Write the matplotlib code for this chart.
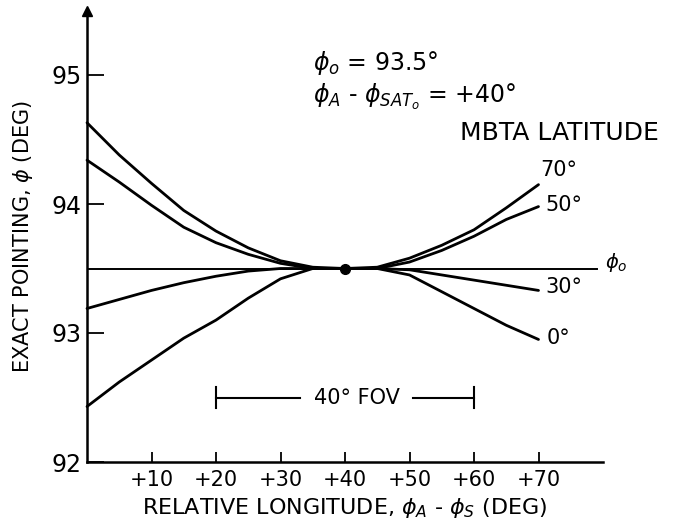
import matplotlib
matplotlib.use("Agg")
import matplotlib.pyplot as plt

plt.rcParams['font.family'] = ['DejaVu Sans']
plt.rcParams['mathtext.fontset'] = 'dejavusans'

# Data
rel_lon = [0, 5, 10, 15, 20, 25, 30, 35, 40, 45, 50, 55, 60, 65, 70]
lat_70 = [94.63, 94.38, 94.16, 93.95, 93.79, 93.66, 93.56, 93.51, 93.50, 93.51, 93.58, 93.68, 93.80, 93.97, 94.15]
lat_50 = [94.34, 94.17, 93.99, 93.82, 93.70, 93.61, 93.54, 93.50, 93.50, 93.50, 93.55, 93.64, 93.75, 93.88, 93.98]
lat_30 = [93.19, 93.26, 93.33, 93.39, 93.44, 93.48, 93.50, 93.50, 93.50, 93.50, 93.49, 93.45, 93.41, 93.37, 93.33]
lat_0 = [92.43, 92.62, 92.79, 92.96, 93.10, 93.27, 93.42, 93.50, 93.50, 93.50, 93.45, 93.32, 93.19, 93.06, 92.95]
phi0 = 93.5
phi0_x = [0, 79]
center_x = 40
fov = [20, 60]
fov_y = 92.5

series = [("70°", lat_70), ("50°", lat_50), ("30°", lat_30), ("0°", lat_0)]
label_pos = {"70°": (70.2, 94.26), "50°": (71, 93.99), "30°": (71, 93.36), "0°": (71.3, 92.96)}

xticks = [10, 20, 30, 40, 50, 60, 70]
xticklabels = ["+10", "+20", "+30", "+40", "+50", "+60", "+70"]
yticks = [92, 93, 94, 95]
yticklabels = ["92", "93", "94", "95"]

fig = plt.figure(figsize=(6.76, 5.28), dpi=100)
ax = fig.add_axes([87/676, 1-462/528, (603-87)/676, (462-10.5)/528])
ax.set_xlim(0, 80)
ax.set_ylim(92, 95.5)

for name, vals in series:
    ax.plot(rel_lon, vals, color='black', lw=2.0, solid_capstyle='round', clip_on=False)
    lx, ly = label_pos[name]
    ax.text(lx, ly, name, fontsize=15, va='center', ha='left')

ax.plot(phi0_x, [phi0, phi0], color='black', lw=1.4)
ax.text(80.3, 93.55, r"$\phi_{o}$", fontsize=14, va='center', ha='left')
ax.plot([center_x], [phi0], 'o', color='black', ms=7)

# FOV bracket
ax.plot([fov[0], fov[0]], [fov_y - 0.08, fov_y + 0.08], color='black', lw=1.5)
ax.plot([fov[1], fov[1]], [fov_y - 0.08, fov_y + 0.08], color='black', lw=1.5)
ax.plot([fov[0], 33], [fov_y, fov_y], color='black', lw=1.5)
ax.plot([50.5, fov[1]], [fov_y, fov_y], color='black', lw=1.5)
ax.text(41.8, fov_y, "40° FOV", fontsize=15, ha='center', va='center')

# annotations
ax.text(35, 95.09, r"$\phi_{o}$ = 93.5°", fontsize=17, va='center', ha='left')
ax.text(35, 94.83, r"$\phi_{A}$ - $\phi_{SAT_{o}}$ = +40°", fontsize=17, va='center', ha='left')
ax.text(57.8, 94.55, "MBTA LATITUDE", fontsize=18, va='center', ha='left')

for s in ['top', 'right']:
    ax.spines[s].set_visible(False)
for s in ['left', 'bottom']:
    ax.spines[s].set_linewidth(1.8)
ax.plot([0], [1], '^', color='black', ms=7, transform=ax.transAxes, clip_on=False)

ax.set_xticks(xticks)
ax.set_xticklabels(xticklabels, fontsize=15)
ax.set_yticks(yticks)
ax.set_yticklabels(yticklabels, fontsize=17)
ax.tick_params(axis='x', direction='in', length=7, width=1.3, pad=6)
ax.tick_params(axis='y', direction='in', length=12, width=1.3, pad=4)

ax.set_xlabel(r"RELATIVE LONGITUDE, $\phi_{A}$ - $\phi_{S}$ (DEG)", fontsize=16, labelpad=4)
ax.set_ylabel(r"EXACT POINTING, $\phi$ (DEG)", fontsize=15, labelpad=12)

fig.savefig("out.png", dpi=100)
